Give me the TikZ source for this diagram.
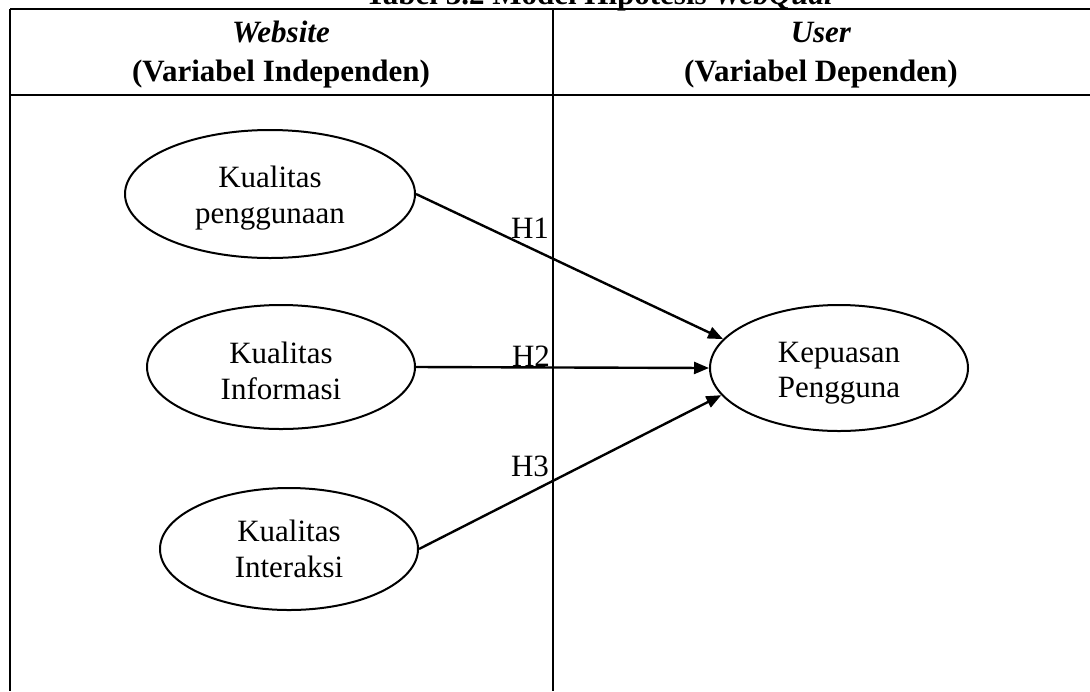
\documentclass[tikz,border=0pt]{standalone}
\usepackage{fontspec}
\setmainfont{Liberation Serif}
\usetikzlibrary{shapes.geometric, arrows.meta}

\begin{document}
\begin{tikzpicture}[x = 0.5pt, y = -0.5pt,
    konstruk/.style = {draw, ellipse, line width = 1pt, inner sep = 0pt},
    teks/.style = {align = center, font = \fontsize{15.5}{17.7}\selectfont},
    kepala/.style = {anchor = base, font = \fontsize{15.5}{17.5}\selectfont\bfseries},
    hipotesis/.style = {font = \fontsize{15.5}{17.5}\selectfont},
    panah/.style = {line width = 1.2pt, -{Triangle[length = 7.5pt, width = 6pt]}}
]
    \clip (0, 0) rectangle (1090, 691);

    % draw title (cut off at the top)
    \node[kepala, anchor = base west] (tabel) at (358, 4) {Tabel 3.2 Model Hipotesis \textit{WebQual}};

    % draw table lines
    \draw[line width = 1.3pt] (10, 9) -- (1090, 9);
    \draw[line width = 1.3pt] (10, 95) -- (1090, 95);
    \draw[line width = 1.1pt] (10, 9) -- (10, 691);
    \draw[line width = 1.1pt] (553, 9) -- (553, 691);

    % draw column headers
    \node[kepala] (web) at (281, 42) {\textit{Website}};
    \node[kepala] (indep) at (281, 81) {(Variabel Independen)};
    \node[kepala] (user) at (821, 42) {\textit{User}};
    \node[kepala] (dep) at (821, 81) {(Variabel Dependen)};

    % draw independent variables
    \node[konstruk, minimum width = 145pt, minimum height = 64pt] (guna) at (270, 194) {};
    \node[konstruk, minimum width = 134pt, minimum height = 62pt] (info) at (281, 367) {};
    \node[konstruk, minimum width = 129pt, minimum height = 61pt] (interaksi) at (289, 549) {};

    \node[teks] (gunateks) at (270, 198) {Kualitas\\penggunaan};
    \node[teks] (infoteks) at (281, 371) {Kualitas\\Informasi};
    \node[teks] (interaksiteks) at (289, 549) {Kualitas\\Interaksi};

    % draw dependent variable
    \node[konstruk, minimum width = 129pt, minimum height = 63pt] (puas) at (839, 368) {};
    \node[teks] (puasteks) at (839, 373) {Kepuasan\\Pengguna};

    % draw hypotheses
    \draw[panah] (guna.east) -- (puas.166);
    \draw[panah] (info.east) -- (puas.west);
    \draw[panah] (interaksi.east) -- (puas.193);

    \node[hipotesis] (h1) at (530, 228) {H1};
    \node[hipotesis] (h2) at (531, 356) {H2};
    \node[hipotesis] (h3) at (530, 466) {H3};

\end{tikzpicture}
\end{document}
